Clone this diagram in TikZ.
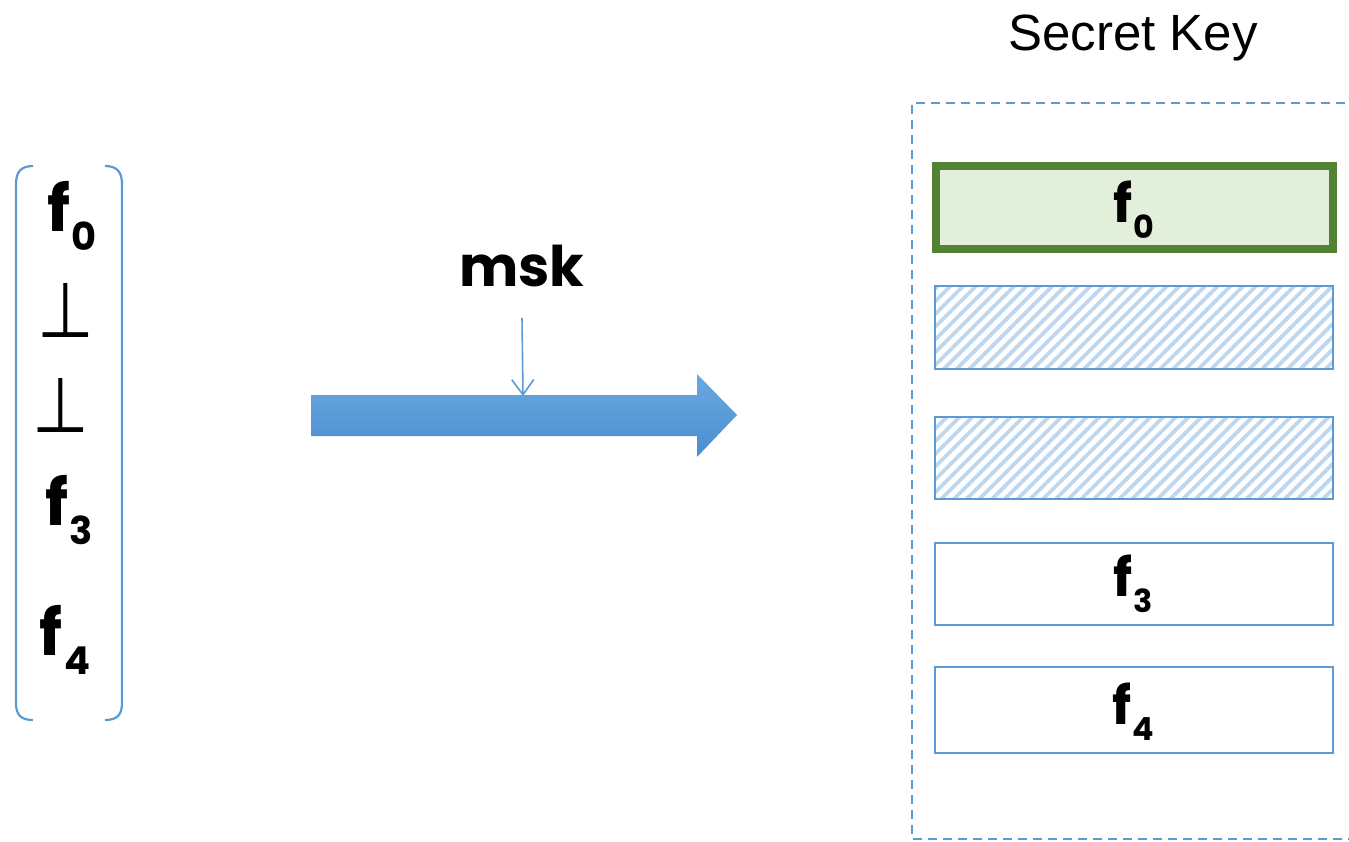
\documentclass[tikz,border=0pt]{standalone}
\usepackage{fontspec}
\usepackage{graphicx}
\setmainfont{Liberation Sans}
\newfontfamily\handfont{Poppins}
\newfontfamily\symfont{DejaVu Sans}
\usetikzlibrary{patterns.meta,arrows.meta}
\definecolor{keyblue}{HTML}{5B9BD5}
\definecolor{hatchblue}{HTML}{BDD7EE}
\definecolor{topblue}{HTML}{6AA8E0}
\definecolor{botblue}{HTML}{4A8ED0}
\definecolor{leafgreen}{HTML}{548235}
\definecolor{leaffill}{HTML}{E2EFDA}
% f with a lowered, smaller index
\newcommand\fidx[1]{f\kern0.02em\raisebox{-0.3em}{\scalebox{0.6}{#1}}}
\tikzset{
  bigsym/.style={font=\handfont\bfseries\fontsize{64}{64}\selectfont, inner sep=0pt},
  boxsym/.style={font=\handfont\bfseries\fontsize{53}{53}\selectfont, inner sep=0pt},
  bottom/.style={font=\symfont\fontsize{58}{58}\selectfont, inner sep=0pt},
  slot/.style={draw=keyblue, line width=2.2pt},
  hatched/.style={slot, pattern={Lines[angle=45,distance=9pt,line width=3.8pt]}, pattern color=hatchblue},
  bracket/.style={draw=keyblue, line width=2.2pt},
}
\begin{document}
\begin{tikzpicture}[x=1pt,y=-1pt]
\useasboundingbox (0,0) rectangle (1349,842);

% vector of components in round-cornered brackets
\draw[bracket] (33,166) .. controls (21,166) and (16,172) .. (16,184) -- (16,703)
  .. controls (16,715) and (21,720) .. (33,720);
\draw[bracket] (105,166) .. controls (117,166) and (122,172) .. (122,184) -- (122,703)
  .. controls (122,715) and (117,720) .. (105,720);
\node[bigsym] (v0) at (72,216) {\fidx{0}};
\node[bottom] (v1) at (66,310) {\scalebox{1.12}[1.33]{⊥}};
\node[bottom] (v2) at (61,405) {\scalebox{1.12}[1.33]{⊥}};
\node[bigsym] (v3) at (69,510) {\fidx{3}};
\node[bigsym] (v4) at (65,640) {\fidx{4}};

% key generation arrow
\shade[top color=topblue, bottom color=botblue]
  (311,395) -- (697,395) -- (697,374) -- (737,415) -- (697,457) -- (697,436) -- (311,436) -- cycle;
\node[font=\handfont\bfseries\fontsize{56}{56}\selectfont, inner sep=0pt] (msk) at (522,266) {msk};
\coordinate (mskfoot) at (522,318);
\coordinate (mskin) at (523,396);
\draw[keyblue, line width=1.6pt, -{Straight Barb[length=15pt,width=22pt,line width=1.6pt]}] (mskfoot) -- (mskin);

% secret key container
\node[font=\fontsize{51}{51}\selectfont, inner sep=0pt] (title) at (1133,38) {Secret Key};
\draw[keyblue, line width=2pt, dash pattern=on 9pt off 6pt] (1360,103) -- (912,103) -- (912,839) -- (1360,839);

\draw[draw=leafgreen, fill=leaffill, line width=8pt] (936,166) rectangle (1333,249);
\node[boxsym] (k0) at (1134,210) {\fidx{0}};
\draw[hatched] (935,286) rectangle (1333,369);
\draw[hatched] (935,417) rectangle (1333,499);
\draw[slot] (935,543) rectangle (1333,625);
\node[boxsym] (k3) at (1133,584) {\fidx{3}};
\draw[slot] (935,667) rectangle (1333,753);
\node[boxsym] (k4) at (1133,712) {\fidx{4}};
\end{tikzpicture}
\end{document}
